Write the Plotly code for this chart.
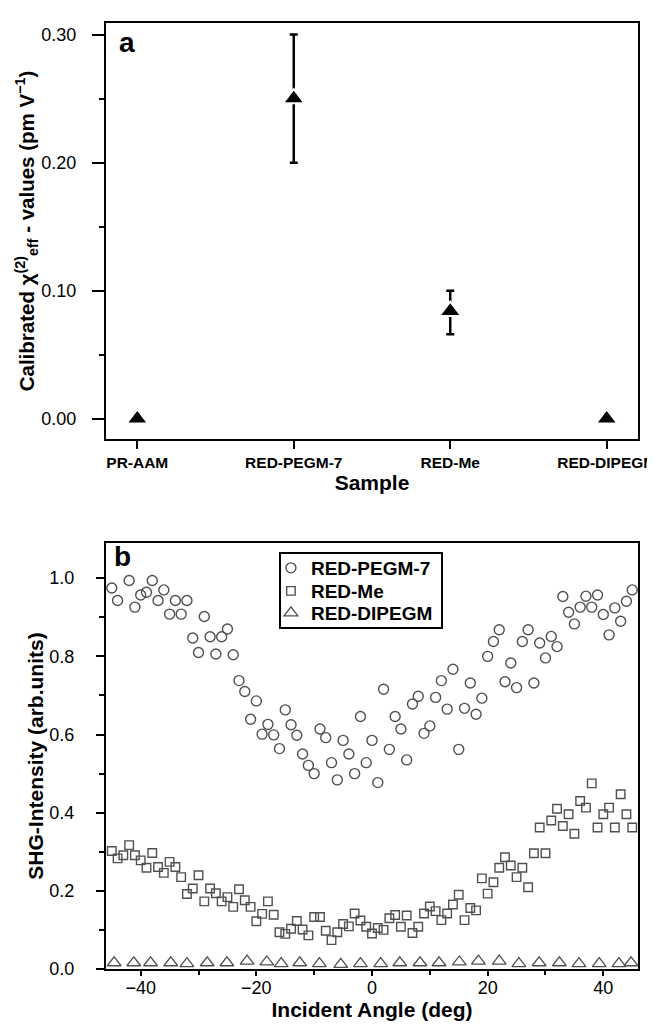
import plotly.graph_objects as go

# ---------------- Panel a data ----------------
categories = ["PR-AAM", "RED-PEGM-7", "RED-Me", "RED-DIPEGM"]
chi_values = [0.0, 0.25, 0.084, 0.0]
chi_err_plus = [0.0, 0.05, 0.016, 0.0]
chi_err_minus = [0.0, 0.05, 0.018, 0.0]

# ---------------- Panel b data ----------------
pegm7_angle = [-45, -44, -42, -41, -40, -39, -38, -37, -36, -35, -34, -33, -32, -31, -30,
               -29, -28, -27, -26, -25, -24, -23, -22, -21, -20, -19, -18, -17, -16, -15,
               -14, -13, -12, -11, -10, -9, -8, -7, -6, -5, -4, -3, -2, -1, 0,
               1, 2, 3, 4, 5, 6, 7, 8, 9, 10, 11, 12, 13, 14, 15,
               16, 17, 18, 19, 20, 21, 22, 23, 24, 25, 26, 27, 28, 29, 30,
               31, 32, 33, 34, 35, 36, 37, 38, 39, 40, 41, 42, 43, 44, 45]
pegm7_shg = [0.975, 0.943, 0.994, 0.926, 0.957, 0.964, 0.994, 0.943, 0.970, 0.908, 0.943, 0.908, 0.943, 0.847, 0.810,
             0.902, 0.850, 0.806, 0.850, 0.870, 0.804, 0.738, 0.710, 0.639, 0.686, 0.601, 0.626, 0.599, 0.564, 0.663,
             0.625, 0.598, 0.550, 0.521, 0.500, 0.614, 0.592, 0.528, 0.484, 0.585, 0.550, 0.500, 0.646, 0.528, 0.585,
             0.477, 0.716, 0.562, 0.646, 0.614, 0.535, 0.678, 0.698, 0.603, 0.622, 0.695, 0.738, 0.665, 0.767, 0.562,
             0.667, 0.732, 0.652, 0.693, 0.800, 0.838, 0.868, 0.735, 0.783, 0.720, 0.838, 0.868, 0.732, 0.834, 0.796,
             0.851, 0.825, 0.953, 0.913, 0.883, 0.926, 0.954, 0.926, 0.957, 0.907, 0.855, 0.924, 0.890, 0.941, 0.970]

me_angle = [-45, -44, -43, -42, -41, -40, -39, -38, -37, -36, -35, -34, -33, -32, -31,
            -30, -29, -28, -27, -26, -25, -24, -23, -22, -21, -20, -19, -18, -17, -16,
            -15, -14, -13, -12, -11, -10, -9, -8, -7, -6, -5, -4, -3, -2, -1,
            0, 1, 2, 3, 4, 5, 6, 7, 8, 9, 10, 11, 12, 13, 14,
            15, 16, 17, 18, 19, 20, 21, 22, 23, 24, 25, 26, 27, 28, 29,
            30, 31, 32, 33, 34, 35, 36, 37, 38, 39, 40, 41, 42, 43, 44, 45]
me_shg = [0.302, 0.283, 0.291, 0.317, 0.291, 0.278, 0.259, 0.297, 0.261, 0.246, 0.274, 0.261, 0.235, 0.192, 0.206,
          0.240, 0.173, 0.206, 0.194, 0.173, 0.184, 0.159, 0.204, 0.176, 0.159, 0.122, 0.141, 0.173, 0.139, 0.094,
          0.090, 0.103, 0.123, 0.101, 0.086, 0.133, 0.133, 0.098, 0.074, 0.094, 0.115, 0.109, 0.142, 0.124, 0.108,
          0.091, 0.105, 0.100, 0.130, 0.138, 0.108, 0.137, 0.092, 0.108, 0.142, 0.160, 0.148, 0.125, 0.142, 0.165,
          0.190, 0.125, 0.156, 0.150, 0.232, 0.193, 0.222, 0.259, 0.286, 0.265, 0.235, 0.259, 0.209, 0.296, 0.362,
          0.296, 0.380, 0.410, 0.366, 0.396, 0.346, 0.430, 0.413, 0.475, 0.362, 0.396, 0.413, 0.362, 0.447, 0.396, 0.362]

dipegm_angle = [-44.6, -41.2, -38.3, -34.8, -32.0, -28.5, -25.1, -21.6, -18.2, -15.7, -12.5, -9.1, -5.4, -2.0,
                1.5, 4.8, 8.3, 11.6, 15.1, 18.4, 22.0, 25.4, 28.9, 32.4, 35.8, 39.3, 42.7, 44.8]
dipegm_shg = [0.016, 0.016, 0.016, 0.016, 0.014, 0.016, 0.016, 0.020, 0.018, 0.014, 0.016, 0.014, 0.012, 0.014,
              0.014, 0.016, 0.016, 0.016, 0.018, 0.020, 0.020, 0.014, 0.016, 0.016, 0.014, 0.014, 0.014, 0.016]

FONT = "Liberation Sans, Arial, Helvetica, sans-serif"
GREY = "#505050"

fig = go.Figure()

# Panel a
fig.add_trace(go.Scatter(
    x=list(range(len(categories))), y=chi_values,
    mode="markers",
    marker=dict(symbol="triangle-up", size=19, color="black", line=dict(color="white", width=2)),
    error_y=dict(type="data", symmetric=False, array=chi_err_plus, arrayminus=chi_err_minus,
                 color="black", thickness=2.5, width=4),
    showlegend=False, xaxis="x", yaxis="y", hoverinfo="skip",
))

# Panel b (each series in its own legend row so rows can be spaced like the original)
fig.add_trace(go.Scatter(
    x=pegm7_angle, y=pegm7_shg, mode="markers", name="RED-PEGM-7", legend="legend",
    marker=dict(symbol="circle-open", size=10, color=GREY, line=dict(width=1.4, color=GREY)),
    xaxis="x2", yaxis="y2",
))
fig.add_trace(go.Scatter(
    x=me_angle, y=me_shg, mode="markers", name="RED-Me", legend="legend2",
    marker=dict(symbol="square-open", size=8.5, color=GREY, line=dict(width=1.4, color=GREY)),
    xaxis="x2", yaxis="y2",
))
fig.add_trace(go.Scatter(
    x=dipegm_angle, y=dipegm_shg, mode="markers", name="RED-DIPEGM", legend="legend3",
    marker=dict(symbol="triangle-up-open", size=12, color=GREY, line=dict(width=1.3, color=GREY)),
    xaxis="x2", yaxis="y2",
))

axis_common = dict(
    showline=True, linecolor="black", linewidth=2, mirror=True,
    ticks="outside", tickcolor="black", tickwidth=2, ticklen=8,
    showgrid=False, zeroline=False,
    tickfont=dict(family=FONT, size=18, color="black"),
)

legend_common = dict(
    x=0.310, xanchor="left", yanchor="middle",
    borderwidth=0, bgcolor="rgba(0,0,0,0)",
    font=dict(family=FONT, size=19, color="black", weight="bold"),
    itemwidth=30,
)

fig.update_layout(
    width=655, height=1024,
    margin=dict(l=98, r=25, t=15, b=63, autoexpand=False),
    paper_bgcolor="white", plot_bgcolor="white",
    font=dict(family=FONT, color="black"),
    xaxis=dict(
        **axis_common, domain=[0, 1], anchor="y",
        range=[-0.2, 3.2],
        tickmode="array", tickvals=list(range(len(categories))), ticktext=categories,
    ),
    yaxis=dict(
        **axis_common, domain=[0.5603, 1.0], anchor="x",
        range=[-0.0157, 0.309], tickmode="linear", tick0=0, dtick=0.1, tickformat=".2f",
        minor=dict(ticks="outside", ticklen=5, tickwidth=2, tickcolor="black", dtick=0.05, tick0=0),
    ),
    xaxis2=dict(
        **axis_common, domain=[0, 1], anchor="y2",
        range=[-46, 46], tickmode="linear", tick0=0, dtick=20,
        minor=dict(ticks="outside", ticklen=4, tickwidth=2, tickcolor="black", dtick=10, tick0=0),
    ),
    yaxis2=dict(
        **axis_common, domain=[0, 0.4503], anchor="x2",
        range=[0, 1.09], tickmode="linear", tick0=0, dtick=0.2, tickformat=".1f",
        minor=dict(ticks="outside", ticklen=5, tickwidth=2, tickcolor="black", dtick=0.1, tick0=0),
    ),
    legend=dict(**legend_common, y=0.4239),
    legend2=dict(**legend_common, y=0.3996),
    legend3=dict(**legend_common, y=0.3763),
)

fig.layout.yaxis.ticklen = 12
fig.layout.yaxis.ticklabelstandoff = 12
fig.layout.yaxis2.ticklabelstandoff = 18
fig.layout.xaxis2.ticklen = 5
fig.layout.xaxis2.ticklabelstandoff = -4
fig.layout.xaxis.tickfont = dict(family=FONT, size=15.5, color="black", weight="bold")
fig.layout.xaxis.ticklabeloverflow = "allow"
fig.layout.xaxis.title = dict(text="Sample", font=dict(family=FONT, size=21, weight="bold"), standoff=6)
fig.layout.yaxis.title = dict(
    text="Calibrated \u03c7<sup>(2)</sup><sub>eff</sub> - values (pm V<sup>\u22121</sup>)",
    font=dict(family=FONT, size=20.5, weight="bold"), standoff=0)
fig.layout.xaxis2.title = dict(text="Incident Angle (deg)", font=dict(family=FONT, size=21, weight="bold"), standoff=0)
fig.layout.yaxis2.title = dict(text="SHG-Intensity (arb.units)", font=dict(family=FONT, size=21, weight="bold"), standoff=0)

# legend frame
fig.add_shape(type="rect", xref="paper", yref="paper", x0=0.3271, x1=0.6316, y0=0.3605, y1=0.4397,
              line=dict(color="black", width=2), fillcolor="rgba(0,0,0,0)", layer="above")

fig.add_annotation(text="<b>a</b>", xref="x domain", yref="y domain", x=0.02, y=0.995,
                   xanchor="left", yanchor="top", showarrow=False,
                   font=dict(family=FONT, size=28, color="black"))
fig.add_annotation(text="<b>b</b>", xref="x2 domain", yref="y2 domain", x=0.012, y=1.01,
                   xanchor="left", yanchor="top", showarrow=False,
                   font=dict(family=FONT, size=28, color="black"))

fig.write_html("out.html")
